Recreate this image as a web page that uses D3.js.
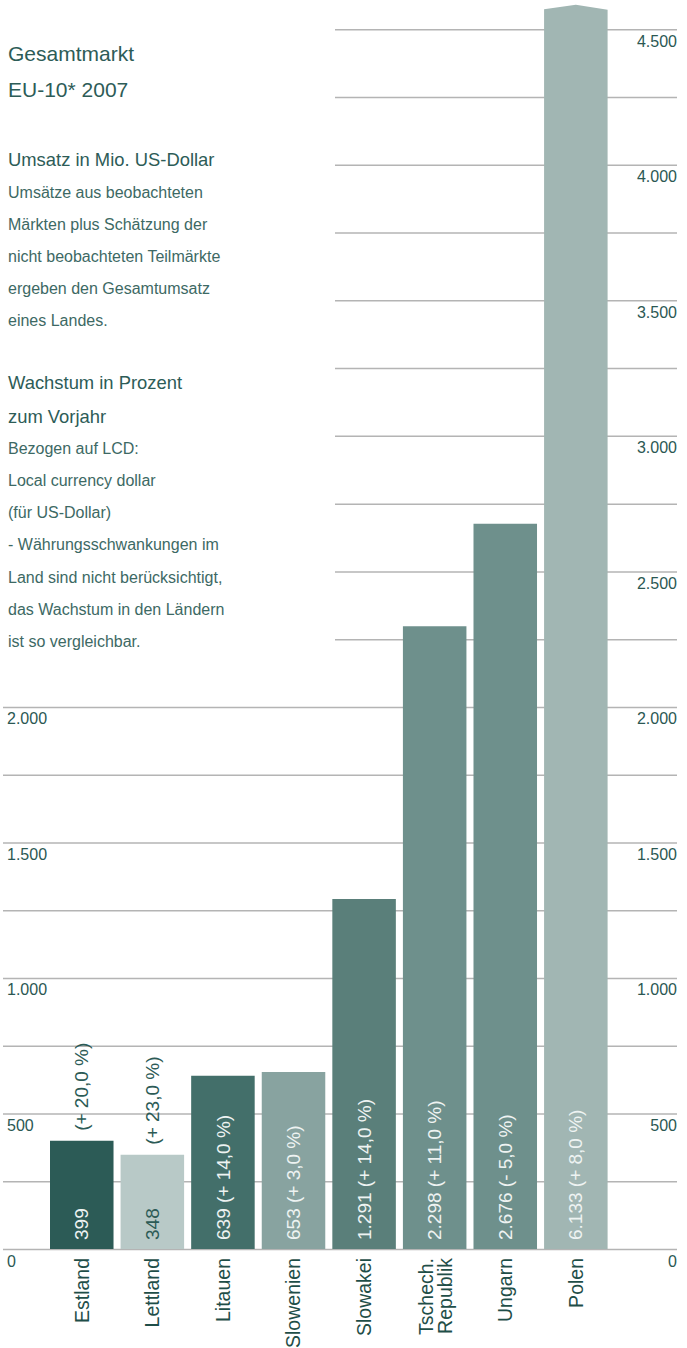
<!DOCTYPE html>
<html>
<head>
<meta charset="utf-8">
<script src="https://cdn.jsdelivr.net/npm/d3@7"></script>
<style>
body { margin:0; background:#ffffff; }
svg { display:block; font-family:"Liberation Sans", Arial, sans-serif; }
.grid line { stroke:#b4b4b4; stroke-width:1.5; }
.grid .domain { display:none; }
.axis .domain { display:none; }
.axis text { font-size:16px; fill:#2b5853; }
</style>
</head>
<body>
<svg id="chart"></svg>
<script>
//the data
var countries = ["Estland","Lettland","Litauen","Slowenien","Slowakei","Tschech. Republik","Ungarn","Polen"];
var countryLines = [["Estland"],["Lettland"],["Litauen"],["Slowenien"],["Slowakei"],["Tschech.","Republik"],["Ungarn"],["Polen"]];
var umsatz = [399,348,639,653,1291,2298,2676,6133];
var wachstum = [20.0,23.0,14.0,3.0,14.0,11.0,-5.0,8.0];
var barColors = ["#2c5b56","#b8c9c7","#436f6a","#88a3a0","#5a7f7a","#6e908c","#6e908c","#a1b6b3"];
var labelColors = ["#eef3f2","#2c5b56","#eef3f2","#eef3f2","#eef3f2","#eef3f2","#eef3f2","#eef3f2"];

//ticks
var gridLow = [0,250,500,750,1000,1250,1500,1750,2000];
var gridHigh = [2250,2500,2750,3000,3250,3500,3750,4000,4250,4500];
var leftTicks = [0,500,1000,1500,2000];
var rightTicks = [0,500,1000,1500,2000,2500,3000,3500,4000,4500];

//text on the left
var titleLines = ["Gesamtmarkt","EU-10* 2007"];
var umsatzHead = ["Umsatz in Mio. US-Dollar"];
var umsatzText = ["Umsätze aus beobachteten","Märkten plus Schätzung der","nicht beobachteten Teilmärkte","ergeben den Gesamtumsatz","eines Landes."];
var wachstumHead = ["Wachstum in Prozent","zum Vorjahr"];
var wachstumText = ["Bezogen auf LCD:","Local currency dollar","(für US-Dollar)","- Währungsschwankungen im","Land sind nicht berücksichtigt,","das Wachstum in den Ländern","ist so vergleichbar."];

var de = d3.formatLocale({decimal:",",thousands:".",grouping:[3],currency:["","€"]});
var numFmt = de.format(",d");
var pctFmt = de.format(".1f");

var growthString = function(g)
{
    return "(" + (g<0 ? "- " : "+ ") + pctFmt(Math.abs(g)) + " %)";
}

var drawGrid = function(svg,yScale)
{
    //lower lines go across the whole width
    svg.append("g")
        .classed("grid",true)
        .attr("transform","translate(3,0)")
        .call(d3.axisRight(yScale).tickValues(gridLow).tickSize(674).tickFormat(""));
    //upper lines only right of the left text
    svg.append("g")
        .classed("grid",true)
        .attr("transform","translate(335,0)")
        .call(d3.axisRight(yScale).tickValues(gridHigh).tickSize(342).tickFormat(""));
}

var drawAxes = function(svg,yScale)
{
    var left = svg.append("g")
        .classed("axis",true)
        .attr("transform","translate(7,0)")
        .call(d3.axisRight(yScale).tickValues(leftTicks).tickSize(0).tickPadding(0).tickFormat(numFmt));
    left.selectAll("text").attr("dy",17).attr("text-anchor","start");

    var right = svg.append("g")
        .classed("axis",true)
        .attr("transform","translate(677,0)")
        .call(d3.axisLeft(yScale).tickValues(rightTicks).tickSize(0).tickPadding(0).tickFormat(numFmt));
    right.selectAll("text").attr("dy",17).attr("text-anchor","end");
}

var drawBars = function(svg,data,xScale,yScale)
{
    var top = yScale.range()[1];
    var barPath = function(d)
    {
        var x0 = xScale(d.country);
        var x1 = x0 + xScale.bandwidth();
        var y0 = yScale(0);
        if (d.value > yScale.domain()[1])
        {
            //broken bar with a little roof
            var yc = top - 20;
            return "M"+x0+","+y0+"L"+x0+","+yc+"L"+(x0+xScale.bandwidth()/2)+","+(yc-4.5)+
                   "L"+x1+","+(yc+0.5)+"L"+x1+","+y0+"Z";
        }
        var y1 = yScale(d.value);
        return "M"+x0+","+y0+"L"+x0+","+y1+"L"+x1+","+y1+"L"+x1+","+y0+"Z";
    }

    svg.append("g")
        .selectAll("path")
        .data(data)
        .enter()
        .append("path")
        .attr("d",barPath)
        .attr("fill",function(d){return d.color;});

    var labels = svg.append("g")
        .selectAll("g")
        .data(data)
        .enter()
        .append("g");

    labels.each(function(d)
    {
        var g = d3.select(this);
        var cx = xScale(d.country) + xScale.bandwidth()/2;
        var barLen = yScale(0) - Math.max(yScale(d.value), top - 20);
        var t = g.append("text")
            .attr("transform","translate("+cx+","+(yScale(0)-9)+") rotate(-90)")
            .attr("dy","0.35em")
            .attr("font-size",19)
            .attr("fill",d.labelColor)
            .text(numFmt(d.value) + " " + growthString(d.growth));
        if (t.node().getComputedTextLength() + 18 > barLen)
        {
            //not enough room, growth goes above the bar
            t.text(numFmt(d.value));
            g.append("text")
                .attr("transform","translate("+cx+","+(yScale(d.value)-10)+") rotate(-90)")
                .attr("dy","0.35em")
                .attr("font-size",19)
                .attr("fill","#2c5b56")
                .text(growthString(d.growth));
        }
    });
}

var drawCountries = function(svg,data,xScale)
{
    var names = svg.append("g")
        .selectAll("g")
        .data(data)
        .enter()
        .append("g")
        .attr("transform",function(d){return "translate("+(xScale(d.country)+xScale.bandwidth()/2)+",1258)";});

    names.selectAll("text")
        .data(function(d){return d.lines.map(function(l,i){return {text:l,i:i,n:d.lines.length};});})
        .enter()
        .append("text")
        .attr("transform",function(l)
        {
            var off = l.n==1 ? 0 : (l.i==0 ? -9 : 10);
            return "translate("+off+",0) rotate(-90)";
        })
        .attr("dy","0.35em")
        .attr("text-anchor","end")
        .attr("font-size",19.5)
        .attr("fill","#1f4e48")
        .text(function(l){return l.text;});
}

var drawLegendText = function(svg)
{
    var g = svg.append("g").attr("transform","translate(8,0)");
    var block = function(lines,y0,step,size,color)
    {
        g.selectAll(null)
            .data(lines)
            .enter()
            .append("text")
            .attr("x",0)
            .attr("y",function(d,i){return y0 + i*step;})
            .attr("font-size",size)
            .attr("fill",color)
            .text(function(d){return d;});
    }
    block(titleLines,61,36,21,"#2d5c57");
    block(umsatzHead,166,32,18.4,"#2d5c57");
    block(umsatzText,198,32.1,16,"#3d6964");
    block(wachstumHead,389.3,33.4,18.4,"#2d5c57");
    block(wachstumText,454.3,32.05,16,"#3d6964");
}

var initGraph = function()
{
    var screen = {width:687,height:1348};
    var svg = d3.select("#chart")
        .attr("width",screen.width)
        .attr("height",screen.height);

    var data = countries.map(function(c,i)
    {
        return {country:c,lines:countryLines[i],value:umsatz[i],growth:wachstum[i],
                color:barColors[i],labelColor:labelColors[i]};
    });
    console.log("data",data);

    var xScale = d3.scaleBand()
        .domain(countries)
        .range([50,607.6])
        .paddingInner(0.1)
        .paddingOuter(0);

    var yScale = d3.scaleLinear()
        .domain([0,4500])
        .range([1249,29.3]);

    drawGrid(svg,yScale);
    drawAxes(svg,yScale);
    drawBars(svg,data,xScale,yScale);
    drawCountries(svg,data,xScale);
    drawLegendText(svg);
}

initGraph();
</script>
</body>
</html>
